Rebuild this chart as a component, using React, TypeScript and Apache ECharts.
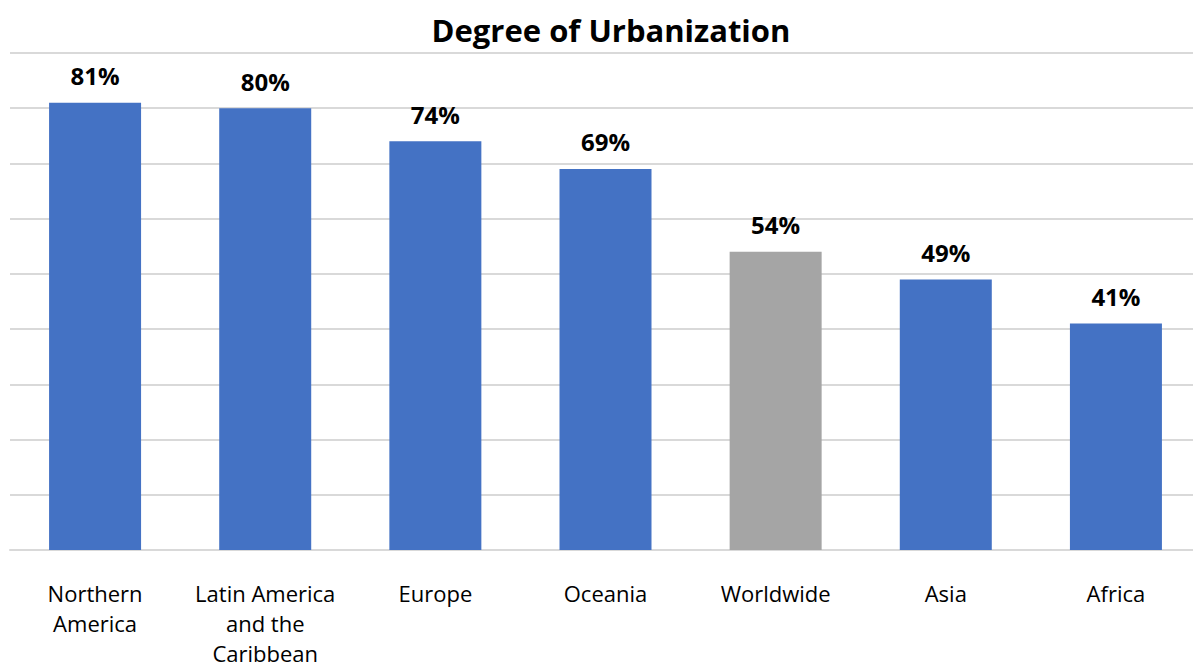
import React, { useEffect, useRef } from "react";
import * as echarts from "echarts";

const categories = ["Northern\nAmerica", "Latin America\nand the\nCaribbean", "Europe", "Oceania", "Worldwide", "Asia", "Africa"];
const values = [81, 80, 74, 69, 54, 49, 41];
const barColors = ["#4472C4", "#4472C4", "#4472C4", "#4472C4", "#A5A5A5", "#4472C4", "#4472C4"];
const titleText = "Degree of Urbanization";

export default function App() {
  const ref = useRef<HTMLDivElement>(null);
  useEffect(() => {
    const chart = echarts.init(ref.current!, null, { renderer: "svg" });
    chart.setOption({
      animation: false,
      title: {
        text: titleText,
        left: 606,
        textAlign: "center",
        top: 9,
        textStyle: { fontFamily: "Open Sans", fontWeight: "bold", fontSize: 31, color: "#000" },
      },
      grid: { left: 10, right: 0, top: 53, bottom: 118, containLabel: false, outerBoundsMode: "none" },
      xAxis: {
        type: "category",
        data: categories,
        axisLine: { show: true, lineStyle: { color: "#D9D9D9", width: 2 } },
        axisTick: { show: false },
        axisLabel: {
          interval: 0,
          margin: 28,
          fontFamily: "Open Sans",
          fontSize: 22,
          lineHeight: 30,
          color: "#000",
          verticalAlign: "top",
        },
      },
      yAxis: {
        type: "value",
        min: 0,
        max: 90,
        interval: 10,
        axisLabel: { show: false },
        axisLine: { show: false },
        axisTick: { show: false },
        splitLine: { lineStyle: { color: "#D9D9D9", width: 2 } },
      },
      series: [
        {
          type: "bar",
          barWidth: 92,
          data: values.map((v, i) => ({ value: v, itemStyle: { color: barColors[i] } })),
          label: {
            show: true,
            position: "top",
            distance: 15,
            formatter: "{c}%",
            fontFamily: "Open Sans",
            fontWeight: "bold",
            fontSize: 24,
            color: "#000",
          },
        },
      ],
    });
    return () => chart.dispose();
  }, []);
  return (
    <div style={{ position: "fixed", left: 0, top: 0, width: 1193, height: 668, overflow: "hidden", background: "#fff" }}>
      <div ref={ref} style={{ width: 1201, height: 668 }} />
    </div>
  );
}
